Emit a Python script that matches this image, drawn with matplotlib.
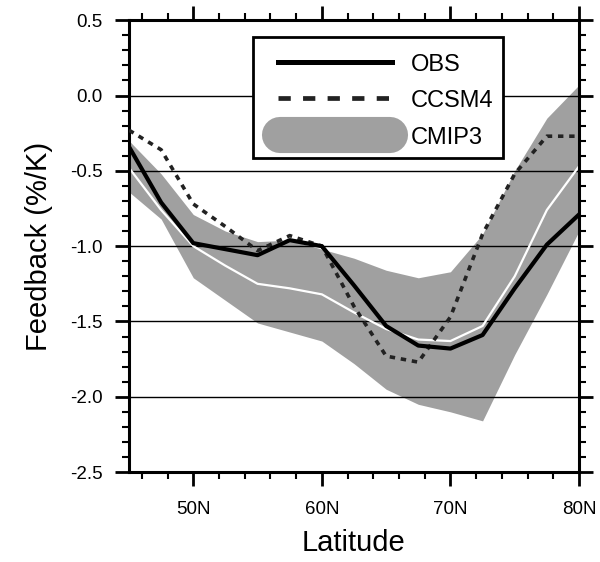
import matplotlib
matplotlib.use("Agg")
import matplotlib.pyplot as plt
from matplotlib.patches import Rectangle
from matplotlib.ticker import MultipleLocator, FixedLocator

plt.rcParams["font.family"] = ["Liberation Sans", "DejaVu Sans"]

# --- data ---
lat = [45, 47.5, 50, 52.5, 55, 57.5, 60, 62.5, 65, 67.5, 70, 72.5, 75, 77.5, 80]
obs = [-0.34, -0.71, -0.98, -1.02, -1.06, -0.96, -1.00, -1.26, -1.53, -1.66,
       -1.68, -1.59, -1.28, -0.99, -0.79]
ccsm4 = [-0.23, -0.36, -0.72, -0.87, -1.03, -0.93, -1.00, -1.40, -1.73, -1.77,
         -1.47, -0.92, -0.52, -0.27, -0.27]
cmip3_mean = [-0.48, -0.76, -1.00, -1.13, -1.25, -1.28, -1.32, -1.44, -1.55,
              -1.62, -1.63, -1.53, -1.20, -0.76, -0.47]
cmip3_hi = [-0.30, -0.52, -0.79, -0.90, -0.97, -0.96, -1.02, -1.08, -1.16,
            -1.21, -1.17, -0.92, -0.50, -0.15, 0.07]
cmip3_lo = [-0.64, -0.82, -1.21, -1.36, -1.51, -1.57, -1.63, -1.78, -1.95,
            -2.05, -2.10, -2.16, -1.72, -1.32, -0.90]

xticks = [50, 60, 70, 80]
xticklabels = ["50N", "60N", "70N", "80N"]
yticks = [-2.5, -2.0, -1.5, -1.0, -0.5, 0.0, 0.5]
gridvals = [-2.0, -1.5, -1.0, -0.5, 0.0]
legend_labels = ["OBS", "CCSM4", "CMIP3"]

GRAY = "#a0a0a0"

fig = plt.figure(figsize=(6, 5.62), dpi=100)
ax = fig.add_axes([0.215, 0.160, 0.750, 0.804])

ax.fill_between(lat, cmip3_lo, cmip3_hi, color=GRAY, lw=0, zorder=1)
for g in gridvals:
    ax.axhline(g, color="black", lw=1.0, zorder=1.5)
ax.plot(lat, cmip3_mean, color="white", lw=1.6, zorder=2)
ax.plot(lat, ccsm4, color="#222222", lw=2.6, ls=(0, (1.5, 1.6)), zorder=3)
ax.plot(lat, obs, color="black", lw=3.0, zorder=4)

ax.set_xlim(45, 80)
ax.set_ylim(-2.5, 0.5)
ax.xaxis.set_major_locator(FixedLocator(xticks))
ax.set_xticklabels(xticklabels)
ax.xaxis.set_minor_locator(MultipleLocator(2))
ax.set_yticks(yticks)
ax.set_yticklabels([f"{v:.1f}" for v in yticks])
ax.yaxis.set_minor_locator(MultipleLocator(0.1))

ax.tick_params(which="both", direction="out", top=True, right=True,
               labeltop=False, labelright=False)
ax.tick_params(which="major", length=10, width=2.0)
ax.tick_params(which="minor", length=5, width=1.5)
ax.tick_params(axis="x", which="major", labelsize=13.5, pad=11)
ax.tick_params(axis="y", which="major", labelsize=13.5, pad=9)
for s in ax.spines.values():
    s.set_linewidth(2.2)

ax.set_xlabel("Latitude", fontsize=21, labelpad=8)
ax.set_ylabel("Feedback (%/K)", fontsize=21, labelpad=12)

# --- legend box drawn in axes coordinates ---
T = ax.transAxes
ax.add_patch(Rectangle((0.276, 0.695), 0.555, 0.267, transform=T,
                       fc="white", ec="black", lw=2.0, zorder=10))
rows = [0.907, 0.827, 0.746]
ax.plot([0.331, 0.584], [rows[0]] * 2, transform=T, color="black", lw=3.6,
        zorder=11)
ax.plot([0.331, 0.584], [rows[1]] * 2, transform=T, color="#222222", lw=3.4,
        ls=(0, (2.6, 2.6)), zorder=11)
ax.plot([0.336, 0.580], [rows[2]] * 2, transform=T, color=GRAY, lw=26,
        solid_capstyle="round", zorder=11)
for r, t in zip(rows, legend_labels):
    ax.text(0.627, r, t, transform=T, fontsize=17, ha="left",
            va="center_baseline", zorder=12)

fig.savefig("out.png", dpi=100, facecolor="white")
